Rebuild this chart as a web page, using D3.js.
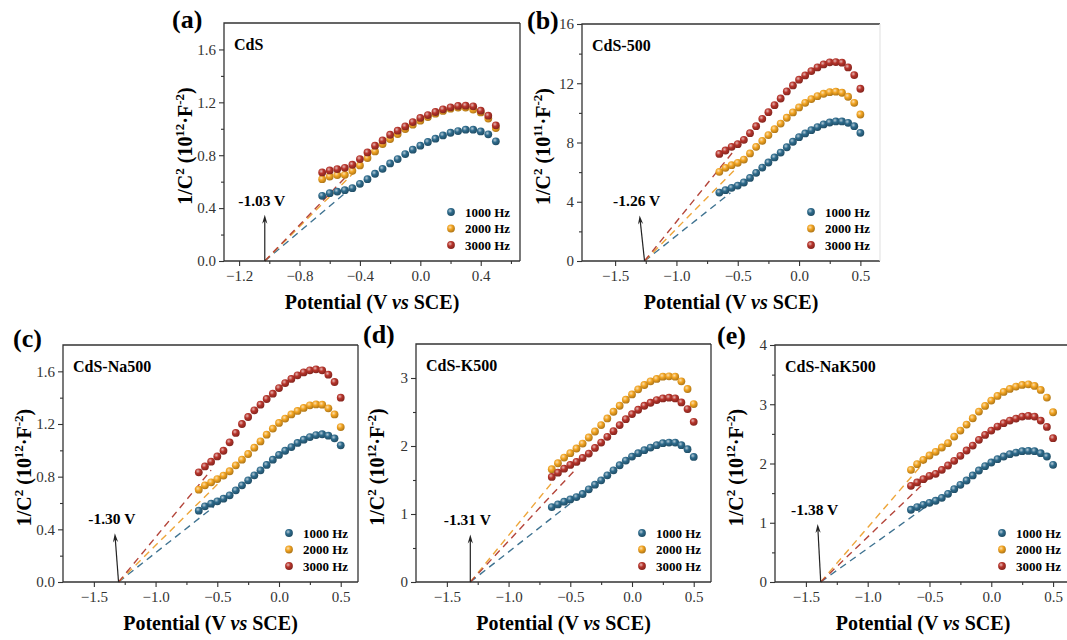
<!DOCTYPE html>
<html>
<head>
<meta charset="utf-8">
<style>
    body { margin: 0; background: #fff; }
</style>
</head>
<body>
<svg id="chart" width="1067" height="640"></svg>
<script src="https://cdn.jsdelivr.net/npm/d3@7"></script>
<script>
// potential values (V vs SCE) shared by all curves
const potential = [-0.65, -0.60, -0.55, -0.50, -0.45, -0.40, -0.35, -0.30, -0.25, -0.20, -0.15, -0.10,
                   -0.05, 0.00, 0.05, 0.10, 0.15, 0.20, 0.25, 0.30, 0.35, 0.40, 0.45, 0.50];
const freqLabels = ["1000 Hz", "2000 Hz", "3000 Hz"];
const sampleNames = ["CdS", "CdS-500", "CdS-Na500", "CdS-K500", "CdS-NaK500"];
const panelTags = ["(a)", "(b)", "(c)", "(d)", "(e)"];

// (a) CdS, 10^12 F^-2
const cds1000 = [0.493, 0.513, 0.525, 0.536, 0.551, 0.584, 0.619, 0.660, 0.697, 0.738, 0.771, 0.809,
                 0.842, 0.872, 0.900, 0.925, 0.950, 0.970, 0.983, 0.993, 0.993, 0.980, 0.958, 0.905];
const cds2000 = [0.619, 0.639, 0.650, 0.652, 0.682, 0.723, 0.779, 0.829, 0.885, 0.922, 0.960, 0.998,
                 1.031, 1.061, 1.089, 1.114, 1.135, 1.152, 1.160, 1.160, 1.145, 1.124, 1.077, 1.006];
const cds3000 = [0.670, 0.685, 0.695, 0.705, 0.728, 0.771, 0.821, 0.872, 0.912, 0.955, 0.986, 1.018,
                 1.051, 1.082, 1.104, 1.127, 1.147, 1.162, 1.173, 1.175, 1.170, 1.137, 1.099, 1.026];
// (b) CdS-500, 10^11 F^-2
const c500_1000 = [4.62, 4.78, 4.94, 5.09, 5.30, 5.61, 5.95, 6.31, 6.65, 6.99, 7.32, 7.68,
                   8.05, 8.36, 8.61, 8.83, 9.04, 9.22, 9.35, 9.42, 9.42, 9.33, 9.10, 8.65];
const c500_2000 = [6.02, 6.29, 6.47, 6.63, 6.85, 7.26, 7.71, 8.11, 8.50, 8.90, 9.28, 9.67,
                   10.03, 10.37, 10.68, 10.93, 11.13, 11.29, 11.40, 11.43, 11.36, 11.09, 10.68, 9.89];
const c500_3000 = [7.23, 7.46, 7.71, 7.89, 8.18, 8.63, 9.10, 9.60, 10.05, 10.52, 10.97, 11.45,
                   11.85, 12.24, 12.53, 12.82, 13.07, 13.27, 13.41, 13.43, 13.39, 13.07, 12.55, 11.63];
// (c) CdS-Na500
const na500_1000 = [0.542, 0.575, 0.595, 0.613, 0.633, 0.658, 0.696, 0.734, 0.772, 0.810, 0.848, 0.889,
                    0.929, 0.965, 0.997, 1.025, 1.056, 1.081, 1.101, 1.116, 1.122, 1.111, 1.091, 1.038];
const na500_2000 = [0.701, 0.734, 0.757, 0.782, 0.808, 0.841, 0.886, 0.929, 0.972, 1.020, 1.068, 1.119,
                    1.165, 1.208, 1.241, 1.273, 1.299, 1.322, 1.342, 1.349, 1.347, 1.319, 1.273, 1.177];
const na500_3000 = [0.833, 0.878, 0.914, 0.954, 0.997, 1.061, 1.132, 1.200, 1.253, 1.304, 1.347, 1.390,
                    1.430, 1.473, 1.511, 1.542, 1.570, 1.592, 1.608, 1.615, 1.608, 1.575, 1.519, 1.400];
// (d) CdS-K500
const k500_1000 = [1.102, 1.141, 1.181, 1.215, 1.249, 1.294, 1.363, 1.431, 1.495, 1.569, 1.643, 1.717,
                   1.786, 1.845, 1.894, 1.938, 1.977, 2.012, 2.041, 2.051, 2.051, 2.012, 1.953, 1.840];
const k500_2000 = [1.658, 1.746, 1.830, 1.894, 1.963, 2.036, 2.125, 2.213, 2.307, 2.405, 2.504, 2.592,
                   2.681, 2.759, 2.833, 2.897, 2.951, 2.986, 3.020, 3.025, 3.020, 2.951, 2.838, 2.617];
const k500_3000 = [1.545, 1.608, 1.667, 1.722, 1.766, 1.825, 1.889, 1.972, 2.051, 2.135, 2.218, 2.307,
                   2.395, 2.469, 2.533, 2.592, 2.636, 2.676, 2.700, 2.710, 2.700, 2.641, 2.543, 2.356];
// (e) CdS-NaK500
const nak500_1000 = [1.219, 1.264, 1.303, 1.337, 1.371, 1.421, 1.489, 1.567, 1.640, 1.713, 1.798, 1.882,
                     1.955, 2.017, 2.073, 2.118, 2.157, 2.185, 2.208, 2.213, 2.208, 2.174, 2.118, 1.978];
const nak500_2000 = [1.893, 1.989, 2.062, 2.135, 2.197, 2.270, 2.343, 2.455, 2.556, 2.657, 2.764, 2.876,
                     2.972, 3.062, 3.140, 3.208, 3.258, 3.298, 3.326, 3.337, 3.309, 3.242, 3.112, 2.865];
const nak500_3000 = [1.624, 1.680, 1.736, 1.792, 1.826, 1.893, 1.966, 2.045, 2.129, 2.219, 2.303, 2.399,
                     2.483, 2.556, 2.624, 2.680, 2.725, 2.758, 2.792, 2.803, 2.792, 2.725, 2.618, 2.427];

// flat-band potentials and the end points of the Mott-Schottky fit lines [x, y] per frequency
const intercepts = [-1.03, -1.26, -1.30, -1.31, -1.38];
const arrowTipX = [-1.03, -1.300, -1.330, -1.31, -1.405];
const arrowTipY = [0.35, 3.08, 0.37, 0.70, 0.98];
const fitEnds = [
    [[-0.47, 0.54], [-0.43, 0.68], [-0.49, 0.64]],
    [[-0.56, 4.6], [-0.52, 6.2], [-0.54, 7.35]],
    [[-0.53, 0.57], [-0.49, 0.75], [-0.55, 0.85]],
    [[-0.49, 1.17], [-0.64, 1.48], [-0.45, 1.67]],
    [[-0.47, 1.36], [-0.45, 2.25], [-0.49, 1.78]]
];

const colors = ["#2e6b8c", "#f2a421", "#b7342b"];
const dashColors = ["#3f7391", "#eea63a", "#b4453a"];
const serif = "'Liberation Serif', 'Times New Roman', serif";

const panels = [
    { box: [224, 23, 520, 261], xDom: [-1.3, 0.66], yDom: [0, 1.8],
      xTicks: [-1.2, -0.8, -0.4, 0, 0.4], xMinor: [-1.0, -0.6, -0.2, 0.2, 0.6],
      yTicks: [0, 0.4, 0.8, 1.2, 1.6], yMinor: [0.2, 0.6, 1.0, 1.4], yFmt: ".1f", exp: "12",
      tag: [172, 28], series: [cds1000, cds2000, cds3000] },
    { box: [582, 24, 880, 261], xDom: [-1.77, 0.66], yDom: [0, 16],
      xTicks: [-1.5, -1, -0.5, 0, 0.5], xMinor: [-1.25, -0.75, -0.25, 0.25],
      yTicks: [0, 4, 8, 12, 16], yMinor: [2, 6, 10, 14], yFmt: "d", exp: "11",
      tag: [527, 29], series: [c500_1000, c500_2000, c500_3000], faintRight: true },
    { box: [63, 345, 358, 582], xDom: [-1.75, 0.64], yDom: [0, 1.8],
      xTicks: [-1.5, -1, -0.5, 0, 0.5], xMinor: [-1.25, -0.75, -0.25, 0.25],
      yTicks: [0, 0.4, 0.8, 1.2, 1.6], yMinor: [0.2, 0.6, 1.0, 1.4], yFmt: ".1f", exp: "12",
      tag: [13, 347], series: [na500_1000, na500_2000, na500_3000] },
    { box: [416, 344, 711, 582], xDom: [-1.75, 0.64], yDom: [0, 3.5],
      xTicks: [-1.5, -1, -0.5, 0, 0.5], xMinor: [-1.25, -0.75, -0.25, 0.25],
      yTicks: [0, 1, 2, 3], yMinor: [0.5, 1.5, 2.5], yFmt: "d", exp: "12",
      tag: [363, 343], series: [k500_1000, k500_2000, k500_3000] },
    { box: [775, 345, 1071, 582], xDom: [-1.75, 0.645], yDom: [0, 4],
      xTicks: [-1.5, -1, -0.5, 0, 0.5], xMinor: [-1.25, -0.75, -0.25, 0.25],
      yTicks: [0, 1, 2, 3, 4], yMinor: [0.5, 1.5, 2.5, 3.5], yFmt: "d", exp: "12",
      tag: [717, 344], series: [nak500_1000, nak500_2000, nak500_3000] }
];

const svg = d3.select("#chart").style("font-family", serif);

// shaded ball markers
const defs = svg.append("defs");
colors.forEach((c, i) => {
    let g = defs.append("radialGradient").attr("id", "ball" + i)
        .attr("cx", "38%").attr("cy", "35%").attr("r", "65%");
    g.append("stop").attr("offset", "0%").attr("stop-color", d3.interpolateRgb(c, "#fff")(0.65));
    g.append("stop").attr("offset", "45%").attr("stop-color", c);
    g.append("stop").attr("offset", "100%").attr("stop-color", d3.color(c).darker(0.9));
});

panels.forEach((p, k) => {
    let [l, t, r, b] = p.box;
    let x = d3.scaleLinear().domain(p.xDom).range([l, r]);
    let y = d3.scaleLinear().domain(p.yDom).range([b, t]);
    let g = svg.append("g");

    // fit lines
    let fitLine = d3.line().x((d) => x(d[0])).y((d) => y(d[1]));
    fitEnds[k].forEach((end, i) => {
        g.append("path")
            .attr("d", fitLine([[intercepts[k], 0], end]))
            .attr("fill", "none")
            .attr("stroke", dashColors[i])
            .attr("stroke-width", 1.4)
            .attr("stroke-dasharray", "7,5");
    });

    // data points
    p.series.forEach((vals, i) => {
        g.append("g").selectAll("circle").data(vals).enter()
            .append("circle")
            .attr("cx", (d, j) => x(potential[j]))
            .attr("cy", (d) => y(d))
            .attr("r", 3.9)
            .attr("fill", "url(#ball" + i + ")");
    });

    // axes
    let xAxis = d3.axisBottom(x).tickValues(p.xTicks).tickSize(5).tickPadding(4)
        .tickFormat(d3.format(".1f"));
    let xMinor = d3.axisBottom(x).tickValues(p.xMinor).tickSize(3).tickFormat("");
    let yAxis = d3.axisLeft(y).tickValues(p.yTicks).tickSize(5).tickPadding(3)
        .tickFormat(d3.format(p.yFmt));
    let yMinor = d3.axisLeft(y).tickValues(p.yMinor).tickSize(3).tickFormat("");
    [[xAxis, "translate(0," + b + ")"], [xMinor, "translate(0," + b + ")"],
     [yAxis, "translate(" + l + ",0)"], [yMinor, "translate(" + l + ",0)"]].forEach(([ax, tr]) => {
        let a = g.append("g").attr("transform", tr).call(ax);
        a.attr("font-family", null);
        a.select(".domain").remove();
        a.selectAll("line").attr("stroke", "#333").attr("stroke-width", 1.1);
        a.selectAll("text").style("font-family", serif)
            .attr("font-size", 15).attr("fill", "#333");
    });

    // frame
    g.append("path")
        .attr("d", `M${r},${t} L${l},${t} L${l},${b} L${r},${b}`)
        .attr("fill", "none").attr("stroke", "#333").attr("stroke-width", 1.3);
    g.append("line").attr("x1", r).attr("x2", r).attr("y1", t).attr("y2", b)
        .attr("stroke", p.faintRight ? "#e6e6e6" : "#333").attr("stroke-width", 1.3);

    // arrow + flat-band label
    let bx = x(intercepts[k]), by = y(0), tx = x(arrowTipX[k]), ty = y(arrowTipY[k]);
    let len = Math.hypot(tx - bx, ty - by), ux = (tx - bx) / len, uy = (ty - by) / len;
    let nx = -uy, ny = ux;
    g.append("line")
        .attr("x1", bx).attr("y1", by)
        .attr("x2", tx - 5 * ux).attr("y2", ty - 5 * uy)
        .attr("stroke", "#222").attr("stroke-width", 1.2);
    g.append("path")
        .attr("d", `M${tx},${ty} L${tx - 9 * ux + 2.6 * nx},${ty - 9 * uy + 2.6 * ny} ` +
                   `L${tx - 6 * ux},${ty - 6 * uy} L${tx - 9 * ux - 2.6 * nx},${ty - 9 * uy - 2.6 * ny} Z`)
        .attr("fill", "#222");
    g.append("text")
        .attr("x", tx - 3).attr("y", ty - 9)
        .attr("text-anchor", "middle").attr("font-size", 15.5).attr("font-weight", "bold")
        .text(intercepts[k].toFixed(2) + " V");

    // sample name
    g.append("text").attr("x", l + 10).attr("y", t + 27)
        .attr("font-size", 16).attr("font-weight", "bold").text(sampleNames[k]);

    // panel tag
    svg.append("text").attr("x", p.tag[0]).attr("y", p.tag[1])
        .attr("font-size", 26).attr("font-weight", "bold").text(panelTags[k]);

    // legend
    freqLabels.forEach((lab, i) => {
        let ly = b - 49 + i * 16.5;
        g.append("circle").attr("cx", r - 69).attr("cy", ly).attr("r", 3.9)
            .attr("fill", "url(#ball" + i + ")");
        g.append("text").attr("x", r - 55).attr("y", ly + 4.5)
            .attr("font-size", 13).attr("font-weight", "bold").text(lab);
    });

    // axis titles
    let xt = g.append("text").attr("x", (l + r) / 2).attr("y", b + 48)
        .attr("text-anchor", "middle").attr("font-size", 20).attr("font-weight", "bold");
    xt.append("tspan").text("Potential (V ");
    xt.append("tspan").attr("font-style", "italic").text("vs");
    xt.append("tspan").text(" SCE)");

    let yt = g.append("text")
        .attr("transform", `translate(${l - 32},${(t + b) / 2 + 4}) rotate(-90)`)
        .attr("text-anchor", "middle").attr("font-size", 20).attr("font-weight", "bold");
    yt.append("tspan").text("1/C");
    yt.append("tspan").attr("font-size", 13).attr("dy", -8).text("2");
    yt.append("tspan").attr("dy", 8).text(" (10");
    yt.append("tspan").attr("font-size", 13).attr("dy", -8).text(p.exp);
    yt.append("tspan").attr("dy", 8).text("\u00b7F");
    yt.append("tspan").attr("font-size", 13).attr("dy", -8).text("-2");
    yt.append("tspan").attr("dy", 8).text(")");
});
</script>
</body>
</html>
